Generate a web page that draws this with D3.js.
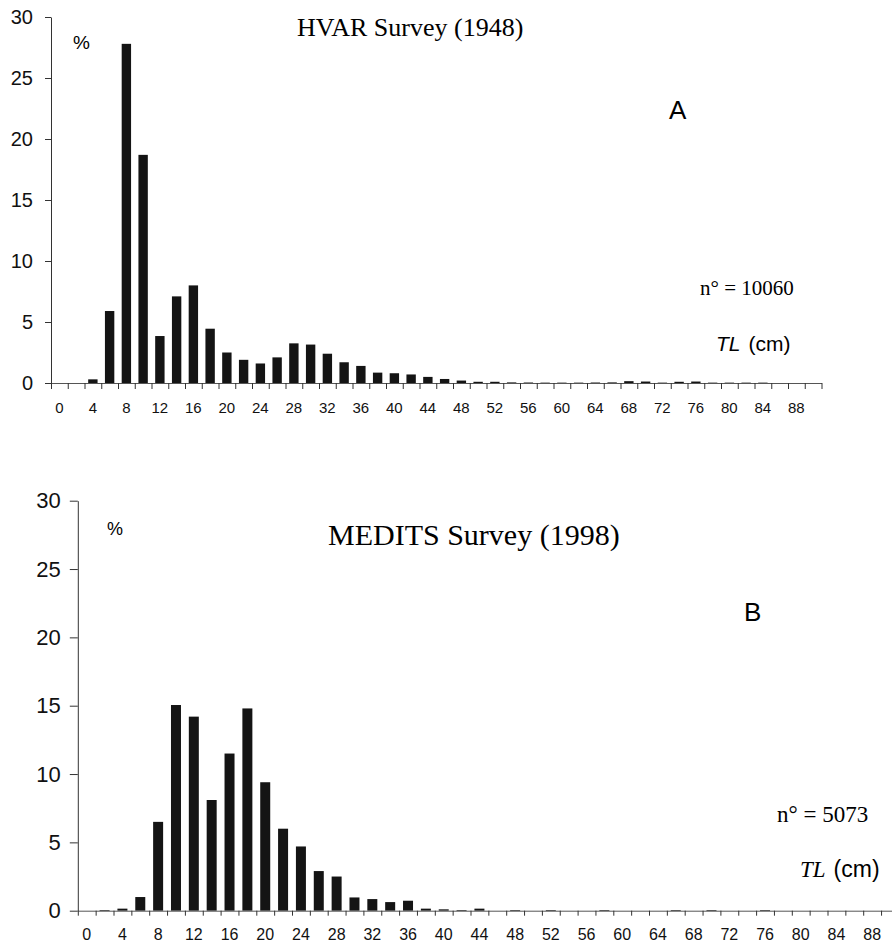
<!DOCTYPE html>
<html>
<head>
<meta charset="utf-8">
<script src="https://cdn.jsdelivr.net/npm/d3@7"></script>
<style>
  body { margin: 0; background: #fff; }
  svg { display: block; }
</style>
</head>
<body>
<div id="chart"></div>
<script>
// length classes (cm), one bar every 2 cm
var lengthClasses = [0, 2, 4, 6, 8, 10, 12, 14, 16, 18, 20, 22, 24, 26, 28, 30, 32, 34, 36, 38, 40, 42, 44,
                     46, 48, 50, 52, 54, 56, 58, 60, 62, 64, 66, 68, 70, 72, 74, 76, 78, 80, 82, 84, 86, 88, 90];
var tickLabels = [0, 4, 8, 12, 16, 20, 24, 28, 32, 36, 40, 44, 48, 52, 56, 60, 64, 68, 72, 76, 80, 84, 88];
var yTicks = [0, 5, 10, 15, 20, 25, 30];

// % frequency, HVAR survey 1948 (n = 10060)
var hvarValues = [0, 0, 0.3, 5.9, 27.8, 18.7, 3.85, 7.1, 8.0, 4.45, 2.5, 1.9, 1.6, 2.1, 3.25, 3.15, 2.4, 1.7, 1.4, 0.85, 0.8, 0.7, 0.5,
                  0.33, 0.2, 0.1, 0.1, 0.05, 0.04, 0.03, 0.03, 0.03, 0.04, 0.05, 0.15, 0.12, 0.03, 0.1, 0.12, 0.03, 0.03, 0.03, 0.03, 0, 0, 0];
// % frequency, MEDITS survey 1998 (n = 5073)
var meditsValues = [0, 0.05, 0.15, 1.0, 6.5, 15.05, 14.2, 8.1, 11.5, 14.8, 9.4, 6.0, 4.7, 2.9, 2.5, 0.97, 0.85, 0.63, 0.73, 0.15, 0.1, 0.05, 0.15,
                    0, 0.05, 0, 0.05, 0, 0, 0.05, 0, 0, 0, 0.05, 0, 0.05, 0, 0, 0.05, 0, 0, 0, 0, 0, 0, 0];

var svg = d3.select("#chart")
  .append("svg")
  .attr("width", 892)
  .attr("height", 946);

// one panel = one histogram
function drawPanel(p) {
  var g = svg.append("g");
  var data = lengthClasses.map(function(c, i) { return {cls: c, v: p.values[i]}; });

  var x = d3.scaleBand()
    .domain(lengthClasses)
    .range([p.x0, p.x0 + p.step * lengthClasses.length])
    .paddingInner(0.44)
    .paddingOuter(0.22);
  // class boundaries for the tick marks
  var xEdge = d3.scaleLinear()
    .domain([-1, 91])
    .range(x.range());
  var y = d3.scaleLinear()
    .domain([0, 30])
    .range([p.y0, p.y1]);

  // bars
  g.selectAll("rect")
    .data(data)
    .enter()
    .append("rect")
    .attr("x", function(d) { return x(d.cls); })
    .attr("width", x.bandwidth())
    .attr("y", function(d) { return y(d.v); })
    .attr("height", function(d) { return p.y0 - y(d.v); })
    .style("fill", "#141414");

  // y axis
  var ya = g.append("g")
    .attr("transform", "translate(" + p.x0 + ",0)")
    .call(d3.axisLeft(y).tickValues(yTicks).tickSize(p.yTick).tickSizeOuter(0).tickPadding(p.yPad));
  ya.selectAll("text")
    .style("font-family", "Arial, 'Liberation Sans', sans-serif")
    .style("font-size", p.yFont + "px")
    .style("fill", "#111");

  // x axis: ticks at class boundaries
  var xt = g.append("g")
    .attr("transform", "translate(0," + p.y0 + ")")
    .call(d3.axisBottom(xEdge).tickValues(d3.range(-1, 92, 2)).tickSize(p.xTick).tickSizeOuter(0).tickFormat(""));
  xt.select(".domain").style("stroke", "#555");

  // x labels every 4 cm, under band centres
  var xl = g.append("g")
    .attr("transform", "translate(0," + p.y0 + ")")
    .call(d3.axisBottom(x).tickValues(tickLabels).tickSize(0).tickPadding(p.xPad));
  xl.select(".domain").remove();
  xl.selectAll("text")
    .style("font-family", "Arial, 'Liberation Sans', sans-serif")
    .style("font-size", p.xFont + "px")
    .style("fill", "#111");

  g.selectAll(".tick line").style("stroke", "#333");
  ya.select(".domain").style("stroke", "#333");

  // annotations
  g.append("text")
    .attr("x", p.title[0]).attr("y", p.title[1])
    .style("font-family", "'Liberation Serif', 'Times New Roman', serif")
    .style("font-size", p.title[2] + "px")
    .text(p.titleText);
  g.append("text")
    .attr("x", p.pct[0]).attr("y", p.pct[1])
    .style("font-family", "Arial, 'Liberation Sans', sans-serif")
    .style("font-size", p.pct[2] + "px")
    .text("%");
  g.append("text")
    .attr("x", p.letter[0]).attr("y", p.letter[1])
    .style("font-family", "Arial, 'Liberation Sans', sans-serif")
    .style("font-size", p.letter[2] + "px")
    .text(p.letterText);
  g.append("text")
    .attr("x", p.n[0]).attr("y", p.n[1])
    .style("font-family", "'Liberation Serif', 'Times New Roman', serif")
    .style("font-size", p.n[2] + "px")
    .text(p.nText);
  var tl = g.append("text")
    .attr("x", p.tl[0]).attr("y", p.tl[1])
    .style("font-family", "Arial, 'Liberation Sans', sans-serif")
    .style("font-size", p.tl[2] + "px");
  tl.append("tspan")
    .style("font-style", "italic")
    .style("font-family", p.tlSerif ? "'Liberation Serif', 'Times New Roman', serif" : "Arial, 'Liberation Sans', sans-serif")
    .text("TL");
  tl.append("tspan")
    .attr("dx", 8)
    .text("(cm)");
}

drawPanel({
  values: hvarValues, x0: 51, step: 16.75, y0: 383, y1: 17,
  yTick: 6, yPad: 12, yFont: 20, xTick: 6, xPad: 19, xFont: 15,
  titleText: "HVAR Survey (1948)", title: [297, 36, 26],
  pct: [73, 49, 19],
  letterText: "A", letter: [669, 119, 26],
  nText: "n\u00b0 = 10060", n: [700, 295, 21],
  tl: [716, 351, 21], tlSerif: false
});

drawPanel({
  values: meditsValues, x0: 77.8, step: 17.85, y0: 910.7, y1: 500.7,
  yTick: 8, yPad: 9, yFont: 22, xTick: 5, xPad: 18, xFont: 16,
  titleText: "MEDITS Survey (1998)", title: [328, 545, 30],
  pct: [107, 535, 18],
  letterText: "B", letter: [744, 621, 26],
  nText: "n\u00b0 = 5073", n: [777, 822, 23],
  tl: [800, 877, 23], tlSerif: true
});
</script>
</body>
</html>
